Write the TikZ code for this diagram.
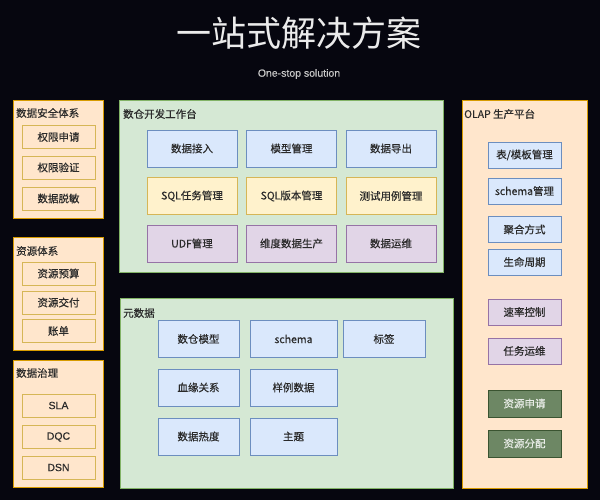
\documentclass[tikz,border=0pt]{standalone}
\usepackage{fontspec}
\setmainfont{Liberation Sans}[FakeBold=0.4]
\newfontfamily\cjk{Noto Sans CJK SC}
\newfontfamily\cjkb[FakeBold=0.4]{Noto Sans CJK SC}
\usetikzlibrary{positioning}
\definecolor{bgc}{HTML}{06060F}
\definecolor{orfill}{HTML}{FFE6CC}
\definecolor{ordraw}{HTML}{D79B00}
\definecolor{yedraw}{HTML}{D6B656}
\definecolor{yefill}{HTML}{FFF2CC}
\definecolor{grfill}{HTML}{D5E8D4}
\definecolor{grdraw}{HTML}{82B366}
\definecolor{blfill}{HTML}{DAE8FC}
\definecolor{bldraw}{HTML}{6C8EBF}
\definecolor{pufill}{HTML}{E1D5E7}
\definecolor{pudraw}{HTML}{9673A6}
\definecolor{dgfill}{HTML}{6D8764}
\definecolor{dgdraw}{HTML}{3A5431}
\definecolor{txt}{HTML}{2A2A2A}
\tikzset{
  panel/.style={rectangle, line width=1pt, inner sep=0pt, anchor=north west},
  orpanel/.style={panel, fill=orfill, draw=ordraw},
  grpanel/.style={panel, fill=grfill, draw=grdraw},
  ptitle/.style={anchor=west, inner sep=0pt, font=\cjkb\fontsize{10.5}{12}\selectfont, text=txt},
  cell/.style={rectangle, line width=0.8pt, inner sep=0pt, font=\cjkb\fontsize{10.5}{12}\selectfont, text=txt},
  lcell/.style={cell, fill=orfill, draw=yedraw, minimum width=73pt, minimum height=23pt},
  bcell/.style={cell, fill=blfill, draw=bldraw},
  ycell/.style={cell, fill=yefill, draw=yedraw},
  pcell/.style={cell, fill=pufill, draw=pudraw},
  gcell/.style={cell, fill=dgfill, draw=dgdraw, text=white!85!dgfill},
  wb/.style={minimum width=90pt, minimum height=37pt},
  md/.style={minimum height=37pt},
  ol/.style={minimum width=73pt, minimum height=26pt},
}
\begin{document}
\begin{tikzpicture}[x=1pt,y=-1pt]
\fill[bgc] (0,0) rectangle (600,500);
\useasboundingbox (0,0) rectangle (600,500);
% titles
\node[inner sep=0pt, text=white!92!black, font=\cjk\fontsize{35}{40}\selectfont] (title) at (299,33) {一站式解决方案};
\node[inner sep=0pt, text=white!78!black, font=\fontsize{10.5}{12}\selectfont] (sub) at (299,74) {One-stop solution};
% left panels
\node[orpanel, minimum width=90pt, minimum height=118pt] (sec) at (13,100) {};
\node[ptitle] (sect) at (16,113) {数据安全体系};
\node[lcell] (s1) at (58.5,137) {权限申请};
\node[lcell] (s2) at (58.5,167.5) {权限验证};
\node[lcell] (s3) at (58.5,198.5) {数据脱敏};

\node[orpanel, minimum width=90pt, minimum height=113pt] (res) at (13,237) {};
\node[ptitle] (rest) at (16,251) {资源体系};
\node[lcell] (r1) at (58.5,273.5) {资源预算};
\node[lcell] (r2) at (58.5,302.5) {资源交付};
\node[lcell] (r3) at (58.5,331) {账单};

\node[orpanel, minimum width=90pt, minimum height=127pt] (gov) at (13,360) {};
\node[ptitle] (govt) at (16,373) {数据治理};
\node[lcell, font=\fontsize{10.5}{12}\selectfont] (g1) at (58.5,405.5) {SLA};
\node[lcell, font=\fontsize{10.5}{12}\selectfont] (g2) at (58.5,437) {DQC};
\node[lcell, font=\fontsize{10.5}{12}\selectfont] (g3) at (58.5,467.5) {DSN};

% workbench
\node[grpanel, minimum width=324pt, minimum height=172pt] (wbp) at (119,100) {};
\node[ptitle] (wbt) at (123,114) {数仓开发工作台};
\node[bcell, wb] (w11) at (192,148.5) {数据接入};
\node[bcell, wb] (w12) at (291.5,148.5) {模型管理};
\node[bcell, wb] (w13) at (391,148.5) {数据导出};
\node[ycell, wb] (w21) at (192,196) {SQL任务管理};
\node[ycell, wb] (w22) at (291.5,196) {SQL版本管理};
\node[ycell, wb] (w23) at (391,196) {测试用例管理};
\node[pcell, wb] (w31) at (192,243.5) {UDF管理};
\node[pcell, wb] (w32) at (291.5,243.5) {维度数据生产};
\node[pcell, wb] (w33) at (391,243.5) {数据运维};

% metadata
\node[grpanel, minimum width=333pt, minimum height=190pt] (mdp) at (120,298) {};
\node[ptitle] (mdt) at (123,313) {元数据};
\node[bcell, md, minimum width=81pt] (m11) at (198.5,339) {数仓模型};
\node[bcell, md, minimum width=87pt] (m12) at (293.5,339) {schema};
\node[bcell, md, minimum width=82pt] (m13) at (384,339) {标签};
\node[bcell, md, minimum width=81pt] (m21) at (198.5,387.5) {血缘关系};
\node[bcell, md, minimum width=87pt] (m22) at (293.5,387.5) {样例数据};
\node[bcell, md, minimum width=81pt] (m31) at (198.5,436.5) {数据热度};
\node[bcell, md, minimum width=87pt] (m32) at (293.5,436.5) {主题};

% OLAP
\node[orpanel, minimum width=125pt, minimum height=388pt] (olp) at (462,100) {};
\node[ptitle] (olt) at (464,114) {OLAP 生产平台};
\node[bcell, ol] (o1) at (524.5,155) {表/模板管理};
\node[bcell, ol] (o2) at (524.5,191) {schema管理};
\node[bcell, ol] (o3) at (524.5,229.5) {聚合方式};
\node[bcell, ol] (o4) at (524.5,262) {生命周期};
\node[pcell, ol] (o5) at (524.5,312) {速率控制};
\node[pcell, ol] (o6) at (524.5,351) {任务运维};
\node[gcell, ol, minimum height=27pt] (o7) at (524.5,403.5) {资源申请};
\node[gcell, ol, minimum height=27pt] (o8) at (524.5,443.5) {资源分配};
\end{tikzpicture}
\end{document}
